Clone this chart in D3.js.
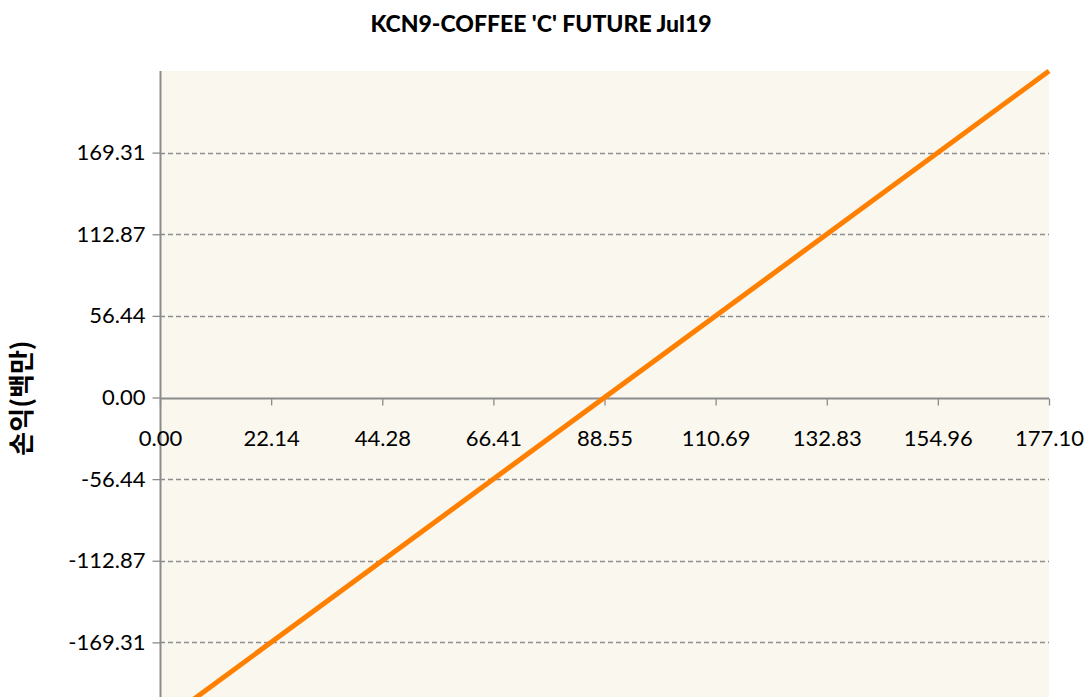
<!DOCTYPE html>
<html>
<head>
<meta charset="utf-8">
<script src="https://cdn.jsdelivr.net/npm/d3@7"></script>
<style>
  html, body { margin: 0; padding: 0; background: #ffffff; overflow: hidden; }
  svg { display: block; }
</style>
</head>
<body>
<svg id="chart" width="1092" height="697"></svg>
<script>
// Payoff of a long futures position: P&L (millions) against price
const title = "KCN9-COFFEE 'C' FUTURE Jul19";
const yTitle = "손익(백만)";
const xTicks = [0.00, 22.14, 44.28, 66.41, 88.55, 110.69, 132.83, 154.96, 177.10];
const yTicks = [-169.31, -112.87, -56.44, 0.00, 56.44, 112.87, 169.31];
const xDomain = [0, 177.10];
const yDomain = [-225.75, 225.75];
const payoffPrice = [0.00, 177.10];
const payoffValue = [-225.75, 225.75];

const svg = d3.select("#chart");
const plot = { left: 160, right: 1049, top: 71, bottom: 724 };

const x = d3.scaleLinear().domain(xDomain).range([plot.left, plot.right]);
const y = d3.scaleLinear().domain(yDomain).range([plot.bottom, plot.top]);

const font = "Lato, 'Open Sans', sans-serif";
const fmt = d => d.toFixed(2);   // plain hyphen for negatives
const axisGrey = "#8c8c8c";

// plot background
svg.append("rect")
  .attr("x", plot.left).attr("y", plot.top)
  .attr("width", plot.right - plot.left).attr("height", plot.bottom - plot.top)
  .attr("fill", "#faf7ef");

// dashed horizontal gridlines (zero is drawn by the axis itself)
svg.append("g").selectAll("line")
  .data(yTicks.filter(d => d !== 0))
  .join("line")
  .attr("x1", plot.left).attr("x2", plot.right)
  .attr("y1", d => Math.round(y(d)) + 0.5).attr("y2", d => Math.round(y(d)) + 0.5)
  .attr("stroke", axisGrey).attr("stroke-width", 1.3)
  .attr("stroke-dasharray", "5,3");

// y axis
const yAxis = svg.append("g")
  .attr("transform", `translate(${plot.left + 0.5},0)`)
  .call(d3.axisLeft(y).tickValues(yTicks).tickFormat(fmt).tickSizeOuter(0).tickSize(8).tickPadding(7));
yAxis.select(".domain").remove();
yAxis.selectAll(".tick line").attr("stroke", axisGrey).attr("stroke-width", 1.3);
yAxis.selectAll(".tick text").attr("font-family", font).attr("font-size", 22).attr("fill", "#000");
svg.append("line")
  .attr("x1", plot.left + 0.5).attr("x2", plot.left + 0.5)
  .attr("y1", plot.top).attr("y2", plot.bottom)
  .attr("stroke", axisGrey).attr("stroke-width", 2);

// x axis sits at zero P&L
const xAxis = svg.append("g")
  .attr("transform", `translate(0,${Math.round(y(0)) + 0.5})`)
  .call(d3.axisBottom(x).tickValues(xTicks).tickFormat(fmt).tickSizeOuter(0).tickSize(7));
xAxis.select(".domain").remove();
xAxis.selectAll(".tick line").attr("stroke", axisGrey).attr("stroke-width", 1.3);
xAxis.selectAll(".tick text").attr("font-family", font).attr("font-size", 22).attr("fill", "#000")
  .attr("y", 47).attr("dy", "0");
svg.append("line")
  .attr("x1", plot.left).attr("x2", plot.right)
  .attr("y1", Math.round(y(0)) + 0.5).attr("y2", Math.round(y(0)) + 0.5)
  .attr("stroke", axisGrey).attr("stroke-width", 2);

// payoff line
const line = d3.line().x((d, i) => x(payoffPrice[i])).y(d => y(d));
svg.append("path")
  .datum(payoffValue)
  .attr("d", line)
  .attr("fill", "none")
  .attr("stroke", "#ff8000")
  .attr("stroke-width", 5);

// title
svg.append("text")
  .attr("x", 541).attr("y", 32)
  .attr("text-anchor", "middle")
  .attr("font-family", font).attr("font-weight", "900").attr("font-size", 23)
  .text(title);

// y axis title
svg.append("text")
  .attr("transform", "translate(31,398) rotate(-90)")
  .attr("text-anchor", "middle")
  .attr("font-family", "'Noto Sans CJK KR', sans-serif").attr("font-weight", "bold").attr("font-size", 26)
  .text(yTitle);
</script>
</body>
</html>
